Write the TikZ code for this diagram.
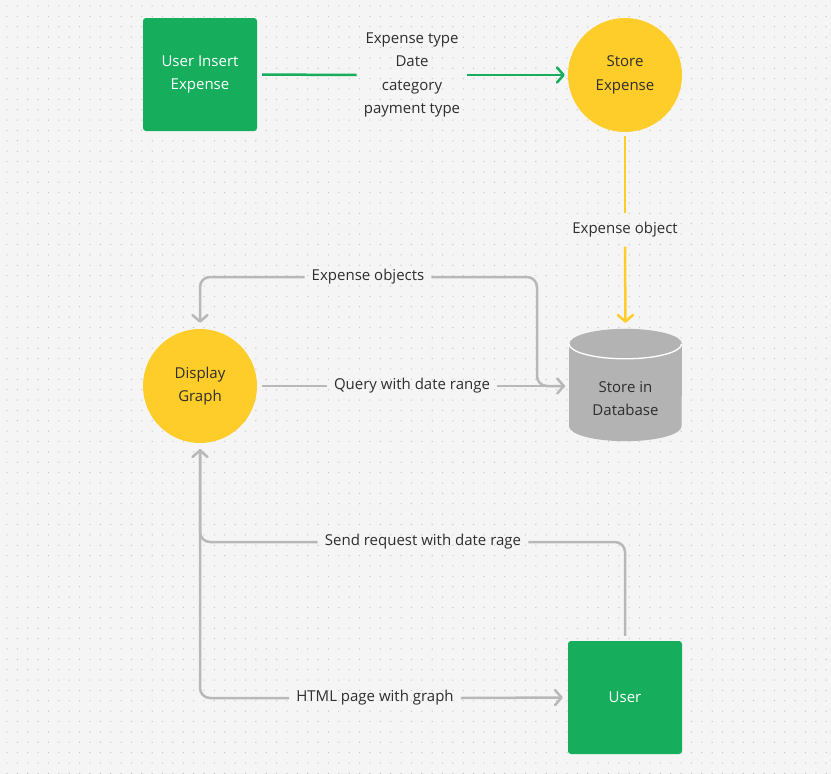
\documentclass[tikz,border=0pt]{standalone}
\usepackage{fontspec}
\setmainfont{Open Sans}
\usepackage{tikz}
\usetikzlibrary{shapes.geometric, positioning, arrows.meta}
\definecolor{bgc}{HTML}{F5F5F5}
\definecolor{dotc}{HTML}{C6C6C6}
\definecolor{boxgreen}{HTML}{16AE5C}
\definecolor{stepyellow}{HTML}{FFCD29}
\definecolor{linkgray}{HTML}{B8B8B8}
\definecolor{dbgray}{HTML}{B3B3B3}
\definecolor{txt}{HTML}{2E2E2E}
\newcommand{\BoxSize}{114pt}
\newcommand{\DbRx}{56.3pt}
\newcommand{\DbRy}{15pt}
\tikzset{
    textfont/.style = {font = \fontsize{15}{23.5}\selectfont, text = txt},
    userbox/.style = {rectangle, rounded corners = 3pt, fill = boxgreen, minimum width = \BoxSize, minimum height = 113pt, align = center, font = \fontsize{15}{23.5}\selectfont, text = white},
    stepcircle/.style = {circle, fill = stepyellow, minimum size = \BoxSize, inner sep = 0pt, align = center, textfont},
    dbbox/.style = {rectangle, minimum width = 112.6pt, minimum height = 112pt, inner sep = 0pt},
    linklabel/.style = {textfont, align = center, inner xsep = 7pt, inner ysep = 2pt},
    greenlink/.style = {draw = boxgreen, line width = 2.5pt},
    yellowlink/.style = {draw = stepyellow, line width = 2.5pt},
    graylink/.style = {draw = linkgray, line width = 2.5pt, rounded corners = 10pt},
    tip/.style = {-{Straight Barb[length = 6.5pt, width = 15pt, round]}}
}

\begin{document}
\begin{tikzpicture}[x = 1pt, y = -1pt]
    % draw background and dot grid
    \fill[bgc] (0, 0) rectangle (831, 774);
    \useasboundingbox (0, 0) rectangle (831, 774);
    \foreach \i in {0, 1, ..., 79}
        \foreach \j in {0, 1, ..., 74}
            \fill[dotc] (7 + \i*10.37, 6 + \j*10.37) circle (0.7);


    % draw nodes
    \node[userbox] (insert) at (200, 74.5) {User Insert\\Expense};
    \node[stepcircle] (store) at (625, 75) {Store\\Expense};
    \node[dbbox] (db) at (625.5, 385) {};
    \node[stepcircle] (display) at (200, 386) {Display\\Graph};
    \node[userbox] (user) at (625, 697.5) {User};


    % draw database cylinder
    \fill[dbgray] ([yshift = -\DbRy]db.north west) -- ([yshift = \DbRy]db.south west)
        arc[start angle = 180, end angle = 360, x radius = \DbRx, y radius = \DbRy]
        -- ([yshift = -\DbRy]db.north east)
        arc[start angle = 0, end angle = 180, x radius = \DbRx, y radius = \DbRy] -- cycle;
    \draw[white, line width = 1.3pt] ([yshift = -\DbRy]db.north west)
        arc[start angle = 180, end angle = 360, x radius = \DbRx, y radius = \DbRy];
    \node[textfont, align = center] (dbtext) at ([yshift = -13.5pt]db.center) {Store in\\Database};


    % draw labels
    \node[linklabel] (fields) at (412, 75) {Expense type\\Date\\category\\payment type};
    \node[linklabel, inner ysep = 9pt] (obj) at (625, 230) {Expense object};
    \node[linklabel] (objs) at (368, 277) {Expense objects};
    \node[linklabel] (query) at (412, 386) {Query with date range};
    \node[linklabel] (request) at (423, 542) {Send request with date rage};
    \node[linklabel] (page) at (375, 698) {HTML page with graph};


    % draw Insert to Store to Database
    \draw[greenlink, shorten < = 5pt] (insert.east) -- (fields.west);
    \draw[greenlink, tip, shorten > = 3pt] (fields.east) -- (store.west);

    \draw[yellowlink, shorten < = 4pt] (store.south) -- (obj.north);
    \draw[yellowlink, tip, shorten > = 6pt] (obj.south) -- (db.north);


    % draw Display Graph links
    \draw[graylink, shorten < = 5pt] (display.east) -- (query.west);
    \draw[graylink, tip, shorten > = 4pt] (query.east) -- (query.east -| db.west);

    \draw[graylink, shorten < = 4pt] (query.east -| db.west) -- ++(-32, 0) |- (objs.east);
    \draw[graylink, tip, shorten > = 6pt] (objs.west) -| (display.north);


    % draw User links
    \draw[graylink, shorten < = 5pt] (user.north) |- (request.east);
    \draw[graylink, tip, shorten > = 6pt] (request.west) -| (display.south);

    \draw[graylink, shorten < = 6pt] (display.south) |- (page.west);
    \draw[graylink, tip, shorten > = 5pt] (page.east) -- (user.west);

\end{tikzpicture}
\end{document}
